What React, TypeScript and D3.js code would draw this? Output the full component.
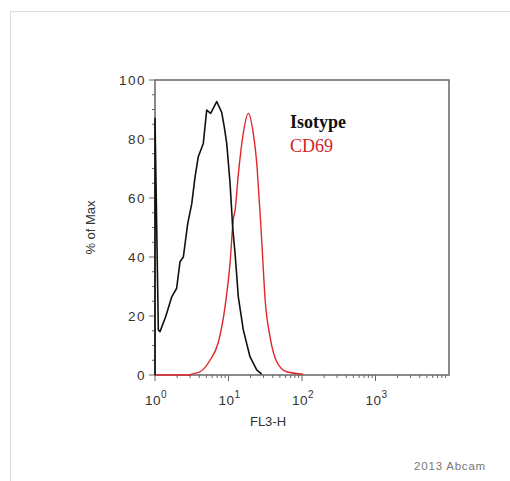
import * as d3 from 'd3';

// FL3-H channel value vs % of Max
const isotypeFl = [1, 1, 1.11, 1.17, 1.4, 1.69, 1.97, 2.19, 2.43, 2.79, 3.16, 3.5, 3.88, 4.54, 5.05, 5.72, 6.91, 8.08, 8.77, 9.46, 10.5, 11.4, 12.3, 13.6, 15.9, 19.6, 24.2, 28.3];
const isotypePct = [0, 87, 15.3, 14.7, 19.8, 26.5, 29.4, 38.4, 40, 51.4, 58, 67, 74, 78.5, 89.8, 88.7, 92.7, 89, 84, 78.5, 65, 50, 41, 26.5, 15.3, 6.2, 1.7, 0.3];

const cd69Fl = [1, 2.9, 3.16, 4.1, 5.6, 7.26, 8.96, 10.5, 11.6, 12.3, 13.6, 15.9, 18.6, 21.7, 24.2, 26.2, 27.5, 29.0, 31.4, 36.7, 45.3, 61.9, 104];
const cd69Pct = [0, 0, 0.3, 1.1, 5, 11, 23, 38, 52.5, 56, 68, 82, 88.7, 82, 72, 59, 51, 41, 26, 13, 4.5, 1.1, 0.3];

const yTicks = [0, 20, 40, 60, 80, 100];
const xDecades = [0, 1, 2, 3];

const W = 510;
const H = 481;
const left = 155, right = 449, top = 80, bottom = 375;

const x = d3.scaleLog().domain([1, 10000]).range([left, right]);
const y = d3.scaleLinear().domain([0, 100]).range([bottom, top]);

const axisColor = '#666';
const sans = '"Liberation Sans", Arial, sans-serif';
const serif = '"Liberation Serif", "Times New Roman", serif';

function pts(xs: number[], ys: number[]): [number, number][] {
  return xs.map((v, i) => [v, ys[i]]);
}

export default function App() {
  const lineLin = d3.line<[number, number]>().x(d => x(d[0])).y(d => y(d[1]));
  const lineSmooth = d3.line<[number, number]>()
    .x(d => x(d[0]))
    .y(d => Math.min(bottom, y(d[1])))
    .curve(d3.curveMonotoneX);

  const minorY = d3.range(5, 100, 5).filter(v => v % 20 !== 0);
  const minorX: number[] = [];
  for (let e = 0; e < 4; e++) for (let k = 2; k <= 9; k++) minorX.push(k * Math.pow(10, e));

  return (
    <div style={{ position: 'absolute', left: 0, top: 0 }}>
      <svg width={W} height={H} style={{ display: 'block', background: '#fff' }}>
        {/* faint outer frame */}
        <line x1={10} y1={11.5} x2={W} y2={11.5} stroke="#ddd" />
        <line x1={10.5} y1={11} x2={10.5} y2={H} stroke="#ddd" />

        {/* plot box */}
        <rect x={left} y={top} width={right - left} height={bottom - top} fill="none" stroke={axisColor} strokeWidth={1.5} />

        {/* y ticks */}
        {yTicks.map(t => (
          <g key={'y' + t}>
            <line x1={left - 6} x2={left} y1={y(t)} y2={y(t)} stroke={axisColor} />
            <text x={left - 9} y={y(t) + 5} textAnchor="end" fontFamily={sans} fontSize={13.5} letterSpacing={1.5} fill="#333">{t}</text>
          </g>
        ))}
        {minorY.map(t => (
          <line key={'my' + t} x1={left - 3} x2={left} y1={y(t)} y2={y(t)} stroke={axisColor} />
        ))}

        {/* x ticks */}
        {xDecades.map(e => {
          const px = x(Math.pow(10, e));
          return (
            <g key={'x' + e}>
              <line x1={px} x2={px} y1={bottom} y2={bottom + 6} stroke={axisColor} />
              <text x={px + 1} y={405} textAnchor="middle" fontFamily={sans} fontSize={13.5} letterSpacing={0.5} fill="#333">
                10<tspan fontSize={10} dy={-7}>{e}</tspan>
              </text>
            </g>
          );
        })}
        {minorX.map(v => (
          <line key={'mx' + v} x1={x(v)} x2={x(v)} y1={bottom} y2={bottom + 3} stroke={axisColor} />
        ))}

        {/* histograms */}
        <path d={lineSmooth(pts(cd69Fl, cd69Pct)) ?? ''} fill="none" stroke="#e0262a" strokeWidth={1.4} />
        <path d={lineLin(pts(isotypeFl, isotypePct)) ?? ''} fill="none" stroke="#111" strokeWidth={1.6} strokeLinejoin="round" />

        {/* axis titles */}
        <text x={268} y={426} textAnchor="middle" fontFamily={sans} fontSize={13} fill="#333">FL3-H</text>
        <text transform={`translate(95,${(top + bottom) / 2}) rotate(-90)`} textAnchor="middle" fontFamily={sans} fontSize={13} fill="#333">% of Max</text>

        {/* legend */}
        <text x={290} y={128} fontFamily={serif} fontWeight="bold" fontSize={18} fill="#111">Isotype</text>
        <text x={290} y={152} fontFamily={serif} fontSize={18} fill="#d42323">CD69</text>

        <text x={486} y={470} textAnchor="end" fontFamily={sans} fontSize={11.5} letterSpacing={0.8} fill="#777">2013 Abcam</text>
      </svg>
    </div>
  );
}
